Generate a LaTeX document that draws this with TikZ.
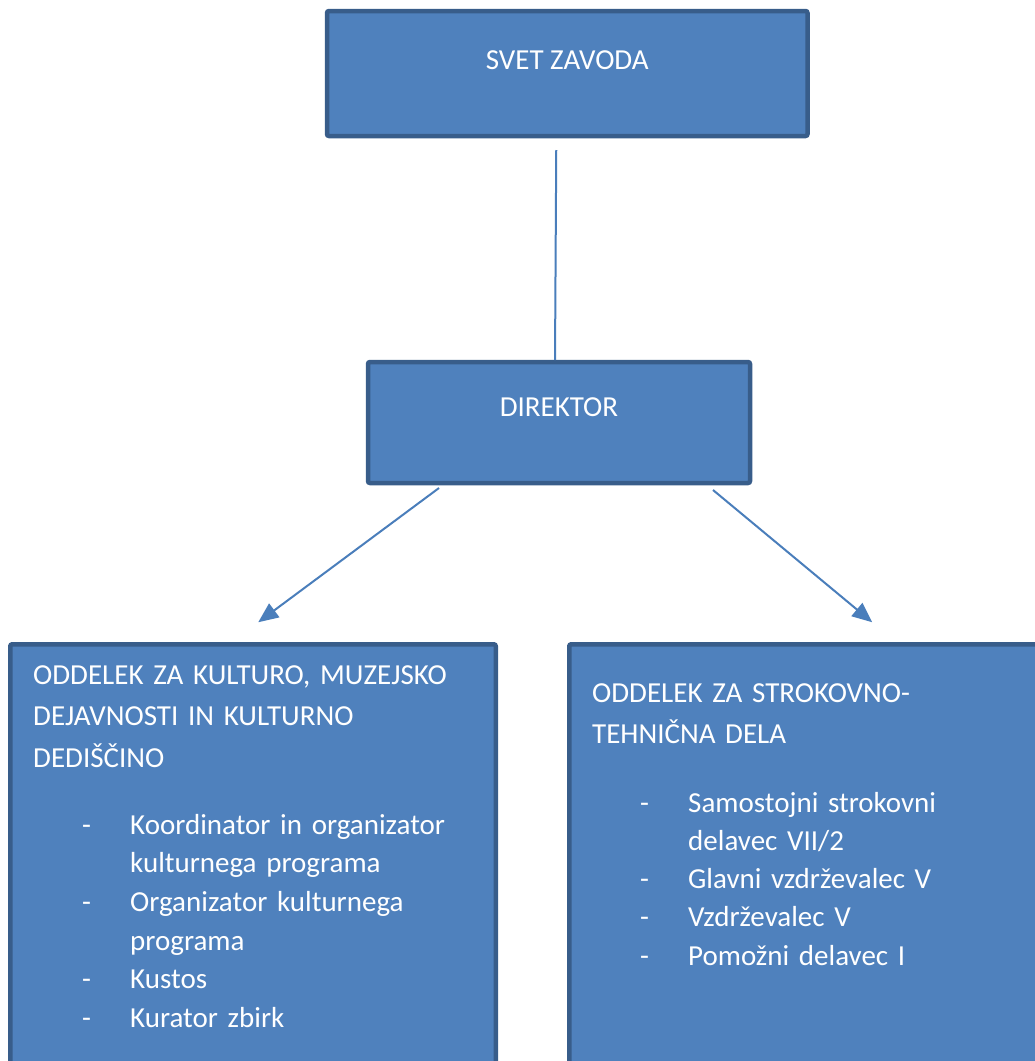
\documentclass[tikz,border=0pt]{standalone}
\usepackage{fontspec}
\setmainfont{Carlito}
\usetikzlibrary{arrows.meta, positioning, calc}
\definecolor{boxfill}{HTML}{4F81BD}
\definecolor{boxline}{HTML}{385D8A}
\definecolor{linkcol}{HTML}{4A7EBB}

\begin{document}
\begin{tikzpicture}[x=1pt, y=-1pt,
  unit/.style={draw=boxline, line width=4.5pt, fill=boxfill, rounded corners=2pt,
    inner sep=0pt, outer sep=0pt, text=white, font=\fontsize{29}{38.7}\selectfont},
  txt/.style={anchor=base west, inner sep=0pt, text=white, align=left},
  link/.style={draw=linkcol, line width=2pt},
  arrowlink/.style={link, -{Triangle[length=20pt, width=17pt]}}]
  \clip (0,0) rectangle (1035,1061);

  % Top two boxes
  \node[unit, minimum width=480.5pt, text height=58pt, text depth=67pt] (svet) at (567.25,73.5) {SVET ZAVODA};
  \node[unit, minimum width=382pt, text height=54pt, text depth=67pt] (dir) at (559,422.5) {DIREKTOR};

  % Department boxes - cut by the page edge
  \node[unit, anchor=north west, minimum width=485.5pt, minimum height=500pt] (kult) at (10.25,644.25) {};
  \node[unit, anchor=north west, minimum width=600pt, minimum height=500pt] (teh) at (569.25,644.25) {};

  % Department texts
  \node[txt, text width=440pt, font=\fontsize{29}{41.5}\selectfont] (kulthead) at (33,684) {
    ODDELEK ZA KULTURO, MUZEJSKO\\
    DEJAVNOSTI IN KULTURNO\\
    DEDIŠČINO
  };
  \node[txt, text width=400pt, font=\fontsize{29}{38.7}\selectfont] (kultlist) at (82,834) {
    \makebox[48pt][l]{-}Koordinator in organizator\\
    \hspace*{48pt}kulturnega programa\\
    \makebox[48pt][l]{-}Organizator kulturnega\\
    \hspace*{48pt}programa\\
    \makebox[48pt][l]{-}Kustos\\
    \makebox[48pt][l]{-}Kurator zbirk
  };
  \node[txt, text width=420pt, font=\fontsize{29}{41}\selectfont] (tehhead) at (592,702) {
    ODDELEK ZA STROKOVNO-\\
    TEHNIČNA DELA
  };
  \node[txt, text width=380pt, font=\fontsize{29}{38.3}\selectfont] (tehlist) at (640,812) {
    \makebox[48pt][l]{-}Samostojni strokovni\\
    \hspace*{48pt}delavec VII/2\\
    \makebox[48pt][l]{-}Glavni vzdrževalec V\\
    \makebox[48pt][l]{-}Vzdrževalec V\\
    \makebox[48pt][l]{-}Pomožni delavec I
  };

  % Connectors
  \draw[link] ([xshift=-11pt, yshift=-14pt]svet.south) -- ([xshift=-4pt, yshift=2pt]dir.north);
  \draw[arrowlink] ([xshift=71pt, yshift=-5pt]dir.south west) -- ([xshift=248pt, yshift=22pt]kult.north west);
  \draw[arrowlink] ([xshift=-37pt, yshift=-7pt]dir.south east) -- ([xshift=303pt, yshift=22pt]teh.north west);
\end{tikzpicture}
\end{document}
